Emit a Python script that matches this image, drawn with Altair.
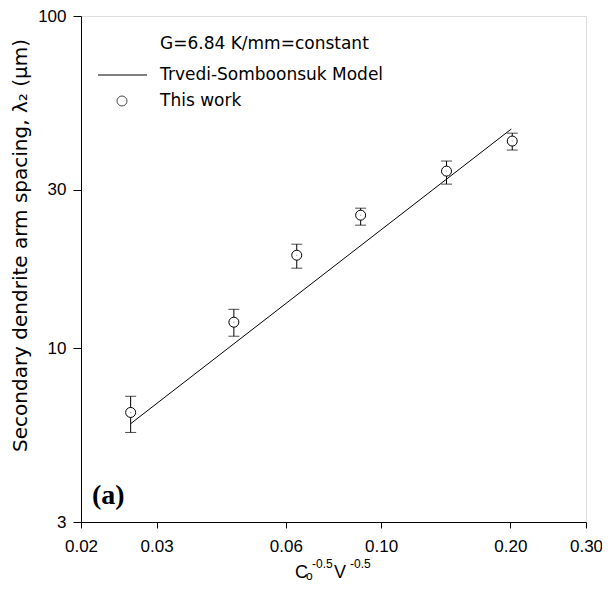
import altair as alt
import pandas as pd

# ---- data ----
x_vals = [0.0261, 0.0454, 0.0636, 0.0896, 0.142, 0.202]
lam2 = [6.41, 11.98, 19.06, 25.15, 34.13, 42.03]
err_hi = [7.17, 13.1, 20.57, 26.4, 36.6, 44.4]
err_lo = [5.58, 10.87, 17.42, 23.47, 31.19, 39.5]
model_x = [0.0261, 0.201]
model_y = [5.93, 45.7]
x_ticks = [0.02, 0.03, 0.06, 0.10, 0.20, 0.30]
y_ticks = [3, 10, 30, 100]

FONT = "Liberation Sans"
LFONT = "DejaVu Sans"
pts = pd.DataFrame(dict(x=x_vals, y=lam2, hi=err_hi, lo=err_lo))
model = pd.DataFrame(dict(x=model_x, y=model_y))

xscale = alt.Scale(type="log", domain=[0.02, 0.3], nice=False)
yscale = alt.Scale(type="log", domain=[3, 100], nice=False)
xaxis = alt.Axis(values=x_ticks, format=".2f", title=None, grid=False, tickSize=6,
                 labelFontSize=17, labelFont=FONT, labelColor="black",
                 domainColor="black", tickColor="black", labelPadding=10,
                 labelFlush=False, labelOverlap=False)
yaxis = alt.Axis(values=y_ticks, format="d", title="Secondary dendrite arm spacing, λ₂ (μm)",
                 grid=False, tickSize=8, labelFontSize=17, labelFont=FONT, labelColor="black",
                 domainColor="black", tickColor="black", labelPadding=7, labelOverlap=False,
                 titleFont=LFONT, titleFontSize=20, titleFontWeight="normal", titleColor="black",
                 titleX=-61, titleY=229, titleAngle=270, titleAlign="center", titleBaseline="middle")

X = alt.X("x:Q", scale=xscale, axis=xaxis)

line = alt.Chart(model).mark_line(color="black", strokeWidth=1).encode(
    x=X, y=alt.Y("y:Q", scale=yscale, axis=yaxis))

bars = alt.Chart(pts).mark_rule(color="black", strokeWidth=1).encode(
    x=X, y=alt.Y("lo:Q", scale=yscale, axis=yaxis), y2="hi:Q")
cap_hi = alt.Chart(pts).mark_tick(orient="horizontal", size=11, thickness=1, color="black").encode(
    x=X, y=alt.Y("hi:Q", scale=yscale, axis=yaxis))
cap_lo = alt.Chart(pts).mark_tick(orient="horizontal", size=11, thickness=1, color="black").encode(
    x=X, y=alt.Y("lo:Q", scale=yscale, axis=yaxis))
points = alt.Chart(pts).mark_point(shape="circle", filled=False, size=100, stroke="black",
                                   strokeWidth=1, fill="white", fillOpacity=1).encode(
    x=X, y=alt.Y("y:Q", scale=yscale, axis=yaxis))
dots = alt.Chart(pts).mark_point(shape="circle", filled=True, size=2, color="#888").encode(
    x=X, y=alt.Y("y:Q", scale=yscale, axis=yaxis))

one = alt.Data(values=[{"a": 1}])


def txt(s, x, y, size=16, font=FONT, weight="normal", align="left", baseline="middle"):
    return alt.Chart(one).mark_text(text=s, font=font, fontSize=size, fontWeight=weight,
                                    align=align, baseline=baseline, color="black").encode(
        x=alt.value(x), y=alt.value(y))


leg_line = alt.Chart(one).mark_rule(color="black", strokeWidth=1).encode(
    x=alt.value(17), x2=alt.value(66), y=alt.value(59))
leg_pt = alt.Chart(one).mark_point(shape="circle", filled=False, size=100, stroke="black",
                                   strokeWidth=1).encode(x=alt.value(41), y=alt.value(85))

annots = [
    txt("G=6.84 K/mm=constant", 79, 28, size=17, font=LFONT),
    txt("Trvedi-Somboonsuk Model", 79, 59, size=17, font=LFONT),
    txt("This work", 79, 85, size=17, font=LFONT),
    txt("(a)", 11, 480, size=28, font="Liberation Serif", weight="bold"),
    txt("C", 214, 562, size=18, baseline="alphabetic"),
    txt("o", 225, 564, size=12, baseline="alphabetic"),
    txt("-0.5", 231, 552, size=12, baseline="alphabetic"),
    txt("V", 253, 562, size=18, baseline="alphabetic"),
    txt("-0.5", 269, 552, size=12, baseline="alphabetic"),
]

chart = alt.layer(line, bars, cap_hi, cap_lo, points, dots, leg_line, leg_pt, *annots).properties(
    width=505, height=506,
    autosize=alt.AutoSizeParams(type="none"),
    padding={"left": 73, "top": 8, "right": 16, "bottom": 60},
).configure_view(stroke="#333", strokeWidth=1).configure(background="white")

chart.save("out.html", embed_options={"renderer": "svg", "actions": False})
